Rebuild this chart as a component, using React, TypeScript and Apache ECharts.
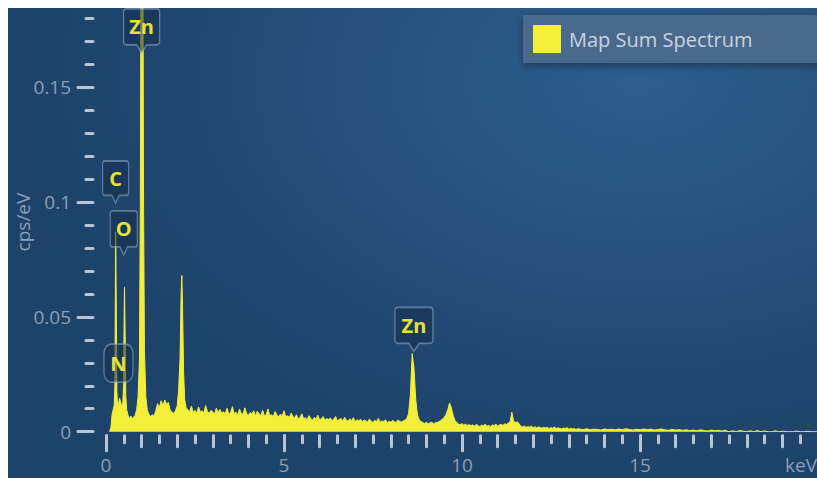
import React, { useEffect, useRef } from 'react';
import * as echarts from 'echarts';

// ---- Data ----
// Low-energy region (explicit energy / intensity pairs)
const peakRegionKeV = [
  0.10, 0.14, 0.17, 0.20, 0.23, 0.25, 0.262, 0.272, 0.282, 0.292,
  0.305, 0.325, 0.35, 0.38, 0.41, 0.44, 0.47, 0.495, 0.51, 0.52,
  0.53, 0.54, 0.555, 0.58, 0.62, 0.66, 0.70, 0.74, 0.78, 0.82,
  0.86, 0.90, 0.94, 0.965, 0.985, 1.035, 1.055, 1.08, 1.12, 1.16,
  1.20, 1.25, 1.30, 1.35, 1.40, 1.45, 1.50, 1.55, 1.60, 1.65,
  1.70, 1.75, 1.80, 1.85, 1.90, 1.95, 2.00, 2.04, 2.08, 2.11,
  2.13, 2.15, 2.18, 2.21, 2.25,
];
const peakRegionCps = [
  0, 0.002, 0.0075, 0.0095, 0.0115, 0.02, 0.06, 0.087, 0.087, 0.05,
  0.018, 0.011, 0.012, 0.0145, 0.013, 0.011, 0.012, 0.02, 0.05, 0.063,
  0.063, 0.04, 0.016, 0.0095, 0.0072, 0.0058, 0.0068, 0.0056, 0.0064, 0.0072,
  0.0095, 0.015, 0.032, 0.1, 0.22, 0.22, 0.1, 0.035, 0.015, 0.0095,
  0.0078, 0.0066, 0.0074, 0.0068, 0.0092, 0.0122, 0.0105, 0.0135, 0.0112, 0.0138,
  0.0118, 0.0128, 0.0096, 0.0086, 0.0079, 0.0092, 0.0112, 0.018, 0.032, 0.06,
  0.068, 0.055, 0.026, 0.014, 0.0105,
];

// Continuum channels: 2.30 keV onward, 0.05 keV per channel
const continuumStartKeV = 2.3;
const continuumStepKeV = 0.05;
const continuumCps = [
  0.0095, 0.0088, 0.0112, 0.0084, 0.0093, 0.0079, 0.0108, 0.0086, 0.0091, 0.0082,
  0.0114, 0.0087, 0.0080, 0.0093, 0.0085, 0.0078, 0.0102, 0.0083, 0.0097, 0.0081,
  0.0086, 0.0079, 0.0102, 0.0077, 0.0083, 0.0109, 0.0078, 0.0085, 0.0074, 0.0098,
  0.0080, 0.0076, 0.0104, 0.0079, 0.0072, 0.0084, 0.0077, 0.0091, 0.0070, 0.0089,
  0.0078, 0.0071, 0.0093, 0.0069, 0.0075, 0.0099, 0.0070, 0.0074, 0.0066, 0.0088,
  0.0072, 0.0065, 0.0077, 0.0068, 0.0091, 0.0064, 0.0070, 0.0062, 0.0081, 0.0066,
  0.0060, 0.0074, 0.0054, 0.0063, 0.0078, 0.0056, 0.0061, 0.0052, 0.0070, 0.0058,
  0.0050, 0.0062, 0.0055, 0.0072, 0.0051, 0.0057, 0.0066, 0.0049, 0.0058, 0.0053,
  0.0060, 0.0048, 0.0055, 0.0066, 0.0047, 0.0053, 0.0058, 0.0045, 0.0063, 0.0050,
  0.0046, 0.0056, 0.0049, 0.0061, 0.0044, 0.0052, 0.0047, 0.0055, 0.0043, 0.0051,
  0.0048, 0.0042, 0.0055, 0.0046, 0.0040, 0.0050, 0.0044, 0.0058, 0.0041, 0.0047,
  0.0043, 0.0052, 0.0039, 0.0046, 0.0042, 0.0049, 0.0044, 0.0040, 0.0051, 0.0045,
  0.0042, 0.0047, 0.0050, 0.0058, 0.0080, 0.0160, 0.0340, 0.0280, 0.0140, 0.0072,
  0.0052, 0.0044, 0.0040, 0.0036, 0.0041, 0.0035, 0.0038, 0.0042, 0.0034, 0.0039,
  0.0040, 0.0044, 0.0048, 0.0055, 0.0062, 0.0075, 0.0095, 0.0125, 0.0105, 0.0072,
  0.0050, 0.0040, 0.0034, 0.0030, 0.0036, 0.0028, 0.0033, 0.0027, 0.0031, 0.0026,
  0.0030, 0.0024, 0.0032, 0.0027, 0.0022, 0.0029, 0.0025, 0.0033, 0.0023, 0.0028,
  0.0021, 0.0030, 0.0026, 0.0034, 0.0024, 0.0029, 0.0032, 0.0027, 0.0035, 0.0030,
  0.0038, 0.0042, 0.0085, 0.0045, 0.0040, 0.0043, 0.0036, 0.0024, 0.0020, 0.0026,
  0.0018, 0.0023, 0.0019, 0.0025, 0.0017, 0.0022, 0.0016, 0.0021, 0.0018, 0.0015,
  0.0020, 0.0016, 0.0019, 0.0014, 0.0018, 0.0015, 0.0021, 0.0013, 0.0017, 0.0014,
  0.0012, 0.0016, 0.0013, 0.0018, 0.0011, 0.0015, 0.0012, 0.0014, 0.0010, 0.0013,
];

// High-energy tail: 13.3 keV onward, 0.1 keV per channel
const tailStartKeV = 13.3;
const tailStepKeV = 0.1;
const tailCps = [
  0.0012, 0.0009, 0.0013, 0.0008, 0.0011, 0.0010, 0.0007, 0.0012, 0.0009, 0.0011,
  0.0008, 0.0012, 0.0009, 0.0013, 0.0010, 0.0007, 0.0011, 0.0008, 0.0012, 0.0009,
  0.0011, 0.0007, 0.0010, 0.0012, 0.0008, 0.0006, 0.0010, 0.0007, 0.0009, 0.0006,
  0.0008, 0.0005, 0.0007, 0.0004, 0.0008, 0.0005, 0.0003, 0.0007, 0.0004, 0.0006,
  0.0003, 0.0006, 0, 0.0004, 0, 0.0005, 0.0002, 0, 0.0004, 0,
  0.0005, 0, 0.0003, 0, 0, 0.0004, 0, 0.0002, 0, 0,
  0, 0.0003, 0, 0, 0.0002, 0, 0, 0,
];

// Element peak labels
const elementNames = ['Zn', 'C', 'O', 'N', 'Zn'];
const elementLabelKeV = [1.0, 0.27, 0.5, 0.35, 8.65];
const elementLabelCps = [0.165, 0.0996, 0.077, 0.0299, 0.035];

// Axis ticks
const xLabelValues = [0, 5, 10, 15, 20];
const xUnitLabel = 'keV';
const yAxisTitle = 'cps/eV';
const seriesName = 'Map Sum Spectrum';

// ---- Styling ----
const FONT = '"Open Sans", "Noto Sans", sans-serif';
const YELLOW = '#f2ee3a';
const TICK = '#b9c5d4';
const LABEL = '#8b9fb8';
const CALLOUT_PATH =
  'path://M3,0 H33 Q36,0 36,3 V33 Q36,36 33,36 H23 L18,44 L13,36 H3 Q0,36 0,33 V3 Q0,0 3,0 Z';

function buildSpectrum(): [number, number][] {
  const pts: [number, number][] = [];
  peakRegionKeV.forEach((e, i) => pts.push([e, peakRegionCps[i]]));
  continuumCps.forEach((v, i) =>
    pts.push([+(continuumStartKeV + i * continuumStepKeV).toFixed(3), v])
  );
  tailCps.forEach((v, i) => pts.push([+(tailStartKeV + i * tailStepKeV).toFixed(3), v]));
  return pts;
}

const boxSizes: [number, number][] = [
  [36, 44],
  [26, 42],
  [27, 44],
  [29, 38],
  [38, 44],
];

export default function App() {
  const ref = useRef<HTMLDivElement>(null);

  useEffect(() => {
    if (!ref.current) return;
    const chart = echarts.init(ref.current, null, { renderer: 'svg' });

    const tickStyle = { color: TICK, width: 3, cap: 'round' as const };

    const markData = elementNames.map((name, i) => {
      const isN = name === 'N';
      const size = boxSizes[i];
      return {
        name,
        coord: [elementLabelKeV[i], elementLabelCps[i]],
        symbol: isN ? 'roundRect' : CALLOUT_PATH,
        symbolSize: size,
        symbolOffset: isN ? [0, 0] : [0, -size[1] / 2],
        label: { offset: isN ? [0, 0] : [0, -4] },
      };
    });

    const baseX = {
      type: 'value' as const,
      min: 0,
      max: 20,
      position: 'bottom' as const,
      offset: 4,
      gridIndex: 0,
      axisLine: { show: false, onZero: false },
      splitLine: { show: false },
    };

    chart.setOption({
      animation: false,
      backgroundColor: 'transparent',
      textStyle: { fontFamily: FONT },
      grid: {
        left: 98,
        right: -1,
        top: -35.5,
        bottom: 46.3,
        containLabel: false,
        outerBoundsMode: 'none',
      },
      legend: {
        show: true,
        left: 515,
        top: 7,
        orient: 'horizontal',
        padding: [10, 90, 10, 10],
        itemWidth: 28,
        itemHeight: 28,
        backgroundColor: '#496a8d',
        borderRadius: 0,
        shadowBlur: 8,
        shadowColor: 'rgba(0,0,0,0.35)',
        shadowOffsetY: 3,
        textStyle: { color: '#c9d3df', fontSize: 20, fontFamily: FONT, padding: [0, 0, 0, 3] },
        data: [{ name: seriesName, icon: 'rect', itemStyle: { color: YELLOW } }],
      },
      xAxis: [
        {
          ...baseX,
          interval: 5,
          axisTick: { show: true, length: 15, lineStyle: tickStyle },
          axisLabel: {
            show: true,
            margin: 20,
            color: LABEL,
            fontSize: 19,
            fontFamily: FONT,
            customValues: xLabelValues,
            formatter: (v: number) => (v === 20 ? '{u|' + xUnitLabel + '}' : String(v)),
            rich: { u: { color: LABEL, fontSize: 19, fontFamily: FONT, padding: [0, 34, 0, 0] } },
          },
        },
        {
          ...baseX,
          interval: 1,
          axisTick: { show: true, length: 11, lineStyle: tickStyle },
          axisLabel: { show: false },
        },
        {
          ...baseX,
          interval: 0.5,
          axisTick: { show: true, length: 7, lineStyle: tickStyle },
          axisLabel: { show: false },
        },
      ],
      yAxis: {
        type: 'value',
        min: 0,
        max: 0.2,
        interval: 0.05,
        position: 'left',
        offset: 13,
        axisLine: { show: false, onZero: false },
        axisTick: { show: true, length: 15, lineStyle: tickStyle },
        minorTick: { show: true, splitNumber: 5, length: 7, lineStyle: tickStyle },
        splitLine: { show: false },
        minorSplitLine: { show: false },
        axisLabel: {
          margin: 22,
          color: LABEL,
          fontSize: 19,
          fontFamily: FONT,
          formatter: (v: number) => (v > 0.19 ? '' : String(v)),
        },
      },
      graphic: [
        {
          type: 'text',
          x: 14.5,
          y: 214,
          rotation: Math.PI / 2,
          style: {
            text: yAxisTitle,
            fill: LABEL,
            fontSize: 19,
            fontFamily: FONT,
            align: 'center',
            verticalAlign: 'middle',
            textAlign: 'center',
            textVerticalAlign: 'middle',
          },
        },
      ],
      series: [
        {
          type: 'line',
          name: seriesName,
          xAxisIndex: 0,
          yAxisIndex: 0,
          data: buildSpectrum(),
          showSymbol: false,
          symbol: 'none',
          lineStyle: { color: YELLOW, width: 1 },
          areaStyle: { color: YELLOW, opacity: 1 },
          itemStyle: { color: YELLOW },
          markPoint: {
            symbolKeepAspect: false,
            itemStyle: {
              color: 'rgba(22,46,76,0.55)',
              borderColor: 'rgba(150,175,200,0.55)',
              borderWidth: 1.5,
            },
            label: {
              show: true,
              position: 'inside',
              formatter: '{b}',
              color: '#e6e23a',
              fontSize: 20,
              fontWeight: 'bold',
              fontFamily: FONT,
            },
            data: markData,
          },
        },
      ],
    });

    return () => chart.dispose();
  }, []);

  return (
    <div
      ref={ref}
      style={{
        position: 'absolute',
        left: 8,
        top: 8,
        width: 809,
        height: 470,
        background:
          'radial-gradient(ellipse 75% 85% at 78% 15%, #2d5e8c 0%, #27537f 40%, #204770 78%, #1e436b 100%)',
      }}
    />
  );
}
